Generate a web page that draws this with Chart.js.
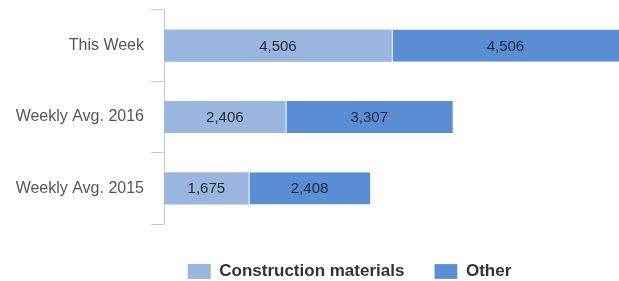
<!DOCTYPE html>
<html>
<head>
<meta charset="utf-8">
<script src="https://cdn.jsdelivr.net/npm/chart.js@4/dist/chart.umd.min.js"></script>
<style>
  html, body { margin: 0; padding: 0; background: #fff; }
  #wrap { width: 619px; height: 281px; }
</style>
</head>
<body>
<div id="wrap"><canvas id="chart"></canvas></div>
<script>
// Chart data
var categories = ['This Week', 'Weekly Avg. 2016', 'Weekly Avg. 2015'];
var construction = [4506, 2406, 1675];
var other = [4506, 3307, 2408];

var FONT = '"Liberation Sans", Arial, sans-serif';

// Draws the value in the middle of each bar segment
var barLabels = {
    id: 'barLabels',
    afterDatasetsDraw: function(chart) {
        var ctx = chart.ctx;
        ctx.save();
        ctx.font = '15px ' + FONT;
        ctx.fillStyle = '#1d2738';
        ctx.textAlign = 'center';
        ctx.textBaseline = 'middle';
        chart.data.datasets.forEach(function(ds, i) {
            chart.getDatasetMeta(i).data.forEach(function(bar, j) {
                var p = bar.getProps(['x', 'y', 'base'], true);
                var right = Math.min(p.x, chart.chartArea.right);
                ctx.fillText(ds.data[j].toLocaleString('en-US'), (p.base + right) / 2, p.y + 1);
            });
        });
        ctx.restore();
    }
};

// Nudge the legend box a bit right and down, like the original
var legendShift = {
    id: 'legendShift',
    afterLayout: function(chart) {
        var lg = chart.legend;
        if (!lg) return;
        lg.left += 40; lg.right += 40;
        lg.top += 9; lg.bottom += 9;
    }
};

var ctx = document.getElementById('chart').getContext('2d');
var myChart = new Chart(ctx, {
    type: 'bar',
    data: {
        labels: categories,
        datasets: [{
            label: 'Construction materials',
            data: construction,
            backgroundColor: '#9ab5de',
            borderWidth: 0,
            categoryPercentage: 0.9,
            barPercentage: 0.5
        }, {
            label: 'Other',
            data: other,
            backgroundColor: '#5a8ed4',
            borderColor: '#ffffff',
            borderWidth: {left: 1, right: 0, top: 0, bottom: 0},
            borderSkipped: false,
            categoryPercentage: 0.9,
            barPercentage: 0.5
        }]
    },
    options: {
        indexAxis: 'y',
        responsive: true,
        maintainAspectRatio: false,
        animation: false,
        layout: {
            padding: {top: 10, right: 0, bottom: 0, left: 0}
        },
        scales: {
            x: {
                stacked: true,
                display: false,
                min: 0,
                max: 9000
            },
            y: {
                stacked: true,
                afterFit: function(scale) {
                    scale.width = 164;
                    scale.paddingTop = 0;
                    scale.paddingBottom = 0;
                },
                border: { color: '#c8c8c8', width: 1 },
                grid: {
                    drawOnChartArea: false,
                    color: '#c8c8c8',
                    tickLength: 13
                },
                ticks: {
                    color: '#555',
                    padding: 7,
                    font: { family: FONT, size: 16 }
                }
            }
        },
        plugins: {
            legend: {
                position: 'bottom',
                labels: {
                    boxWidth: 23,
                    boxHeight: 15,
                    padding: 30,
                    color: '#333',
                    font: { family: FONT, size: 17, weight: 'bold' }
                }
            },
            tooltip: { enabled: false }
        }
    },
    plugins: [barLabels, legendShift]
});
</script>
</body>
</html>
